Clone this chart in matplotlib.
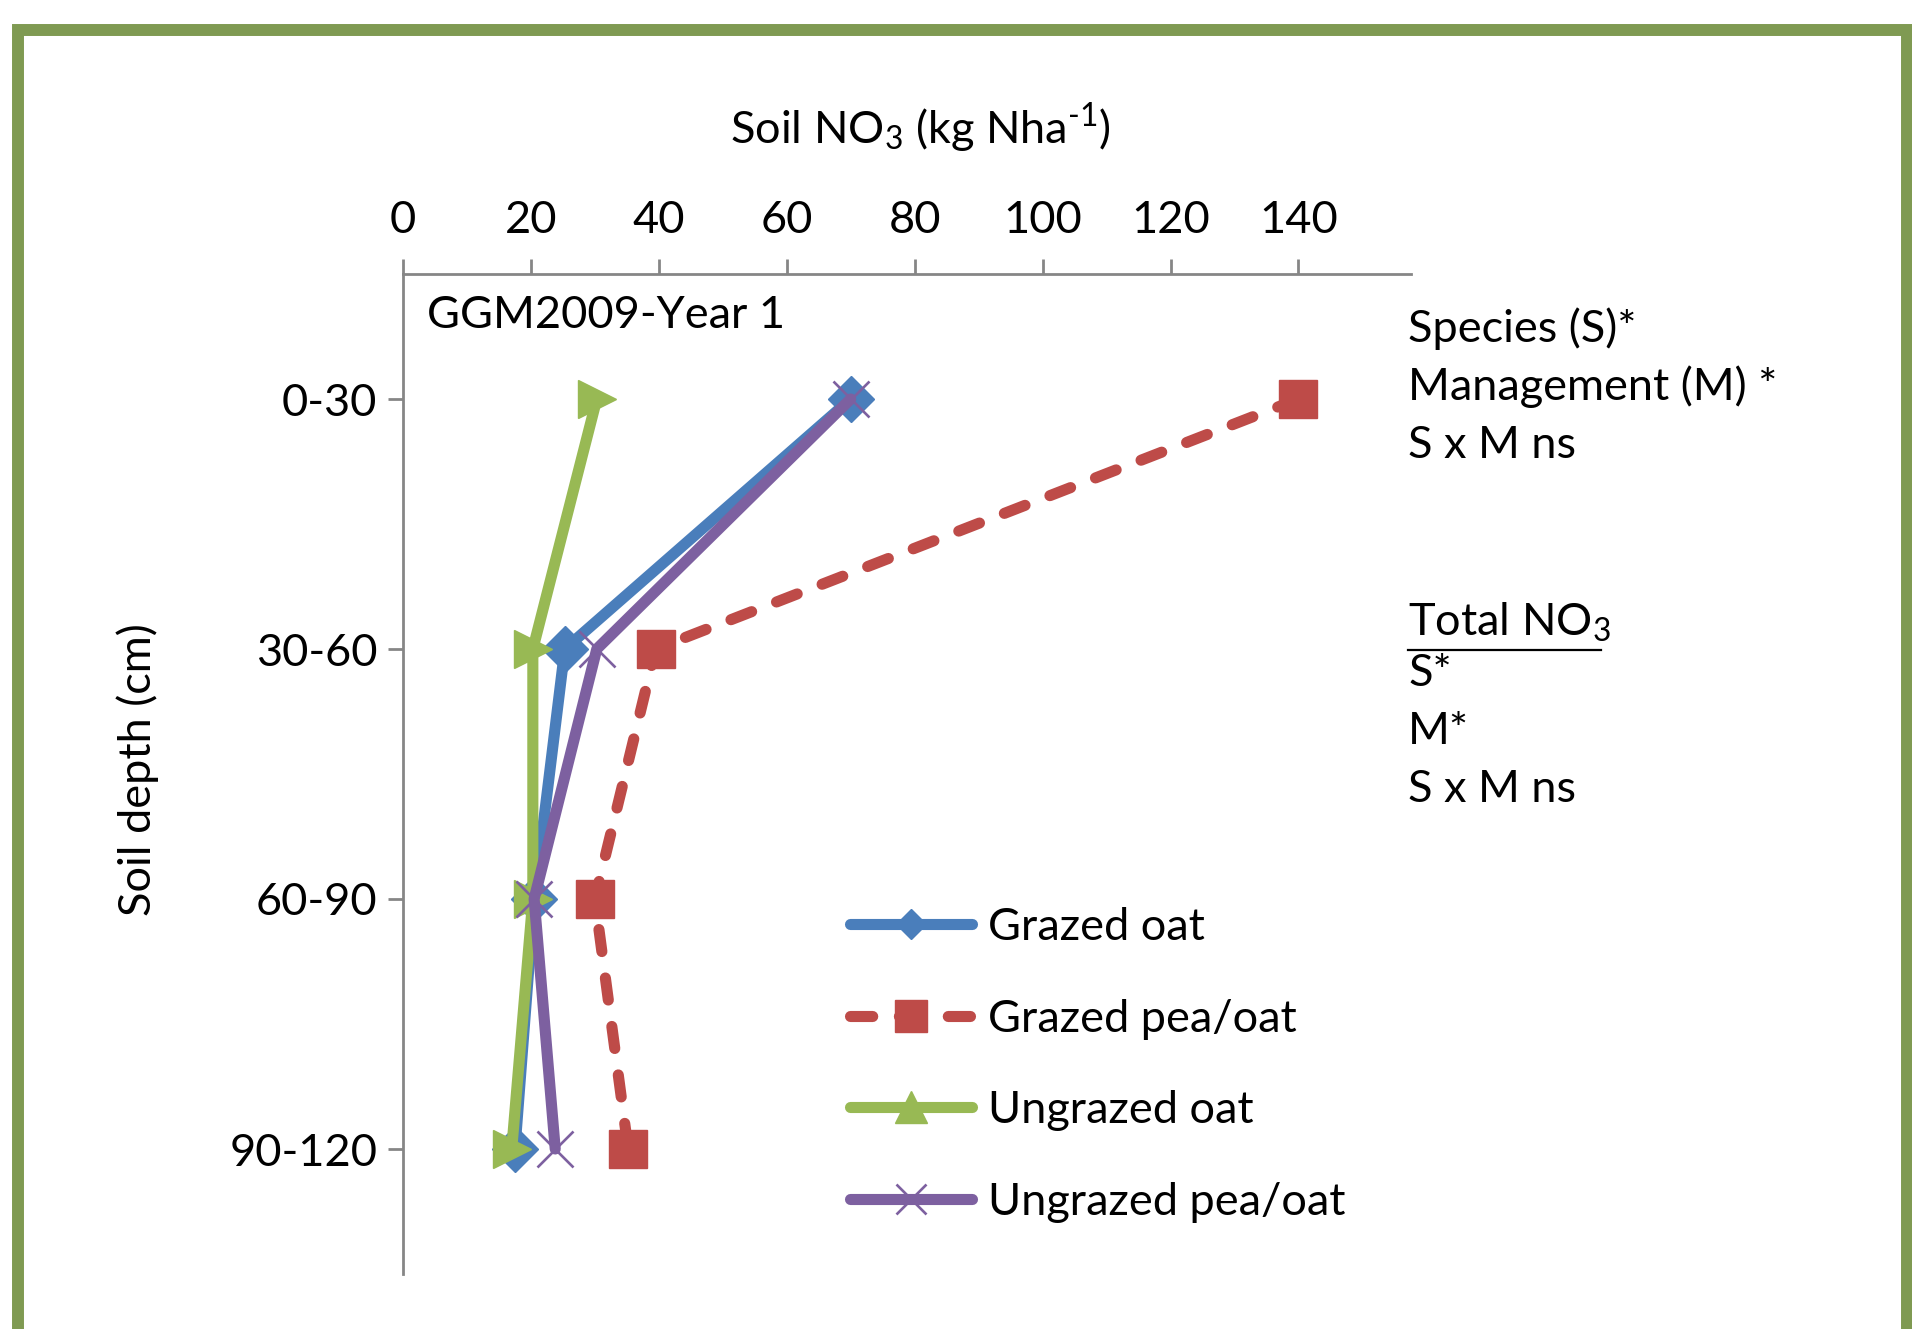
import matplotlib
matplotlib.use("Agg")
import matplotlib.pyplot as plt
from matplotlib.lines import Line2D
from matplotlib.patches import Rectangle

plt.rcParams["font.family"] = ["Lato", "DejaVu Sans"]
plt.rcParams["mathtext.fontset"] = "custom"
plt.rcParams["mathtext.rm"] = "Lato"
plt.rcParams["mathtext.it"] = "Lato:italic"

depths = ["0-30", "30-60", "60-90", "90-120"]
grazed_oat = [70, 25.3, 20.5, 17.5]
grazed_pea_oat = [140, 39.5, 30, 35.2]
ungrazed_oat = [30.3, 20.3, 20.3, 17]
ungrazed_pea_oat = [70, 30.3, 20.5, 23.8]
x_ticks = [0, 20, 40, 60, 80, 100, 120, 140]

blue = "#4A7EBB"
red = "#BE4B48"
green = "#98B954"
purple = "#7D60A0"
axis_grey = "#868686"
frame_green = "#7F9A52"

W, H = 1912, 1329
FS = 32.5
LW = 8.0

fig = plt.figure(figsize=(W / 100, H / 100), dpi=100)


def fx(px):
    return px / W


def fy(py):
    return 1 - py / H


# outer frame (cropped at the bottom)
fig.patches.append(Rectangle((fx(18), fy(1400)), fx(1907) - fx(18), fy(30) - fy(1400),
                             transform=fig.transFigure, fill=False,
                             edgecolor=frame_green, linewidth=8.6, zorder=0))

ax = fig.add_axes([fx(403), fy(1274), fx(1411) - fx(403), fy(274) - fy(1274)])
ax.set_facecolor("none")
ypos = [i + 0.5 for i in range(len(depths))]

ax.plot(grazed_oat, ypos, color=blue, lw=LW, marker="D", ms=23,
        mec=blue, solid_joinstyle="round", solid_capstyle="round", zorder=3)
ax.plot(grazed_pea_oat, ypos, color=red, lw=LW, marker="s", ms=28,
        mec=red, dashes=(2, 2.4), dash_capstyle="round", zorder=3)
ax.plot(ungrazed_oat, ypos, color=green, lw=LW, marker=">", ms=28,
        mec=green, solid_joinstyle="round", solid_capstyle="round", zorder=3)
ax.plot(ungrazed_pea_oat, ypos, color=purple, lw=LW, marker="x", ms=26,
        mew=1.9, solid_joinstyle="round", solid_capstyle="round", zorder=3)

ax.set_xlim(0, 157.6)
ax.set_ylim(4, 0)
ax.xaxis.tick_top()
ax.set_xticks(x_ticks)
ax.set_xticklabels([str(v) for v in x_ticks])
ax.set_yticks(ypos)
ax.set_yticklabels(depths)
for side in ["right", "bottom"]:
    ax.spines[side].set_visible(False)
for side in ["top", "left"]:
    ax.spines[side].set_color(axis_grey)
    ax.spines[side].set_linewidth(2.0)
ax.tick_params(axis="x", direction="out", length=10.5, width=2.0, color=axis_grey,
               labelsize=FS, pad=13)
ax.tick_params(axis="y", direction="out", length=10.5, width=2.0, color=axis_grey,
               labelsize=FS, pad=8)

fig.text(fx(920), fy(128), r"Soil NO$_3$ (kg Nha$^{\text{-}1}$)", fontsize=FS,
         ha="center", va="center")
fig.text(fx(138), fy(770), "Soil depth (cm)", fontsize=FS, rotation=90,
         ha="center", va="center")
fig.text(fx(427), fy(315), "GGM2009-Year 1", fontsize=FS, ha="left", va="center")

notes_top = ["Species (S)*", "Management (M) *", "S x M ns"]
notes_total = ["S*", "M*", "S x M ns"]
for i, s in enumerate(notes_top):
    fig.text(fx(1408), fy(329 + 58 * i), s, fontsize=FS, ha="left", va="center")
fig.text(fx(1408), fy(622), r"Total NO$_3$", fontsize=FS, ha="left", va="center")
fig.add_artist(Line2D([fx(1408), fx(1601)], [fy(650), fy(650)], color="black", lw=1.6))
for i, s in enumerate(notes_total):
    fig.text(fx(1408), fy(674 + 58 * i), s, fontsize=FS, ha="left", va="center")

handles = [
    Line2D([], [], color=blue, lw=LW, marker="D", ms=15, mec=blue,
           solid_capstyle="round"),
    Line2D([], [], color=red, lw=LW, marker="s", ms=23, mec=red,
           dashes=(2, 2.4), dash_capstyle="round"),
    Line2D([], [], color=green, lw=LW, marker="^", ms=23, mec=green,
           solid_capstyle="round"),
    Line2D([], [], color=purple, lw=LW, marker="x", ms=22, mew=1.9,
           solid_capstyle="round"),
]
labels = ["Grazed oat", "Grazed pea/oat", "Ungrazed oat", "Ungrazed pea/oat"]
fig.legend(handles, labels, loc="upper left", bbox_to_anchor=(fx(850), fy(907)),
           frameon=False, fontsize=FS, handlelength=2.7, handletextpad=0.35,
           labelspacing=1.12, borderaxespad=0, borderpad=0)

fig.savefig("out.png", dpi=100)
